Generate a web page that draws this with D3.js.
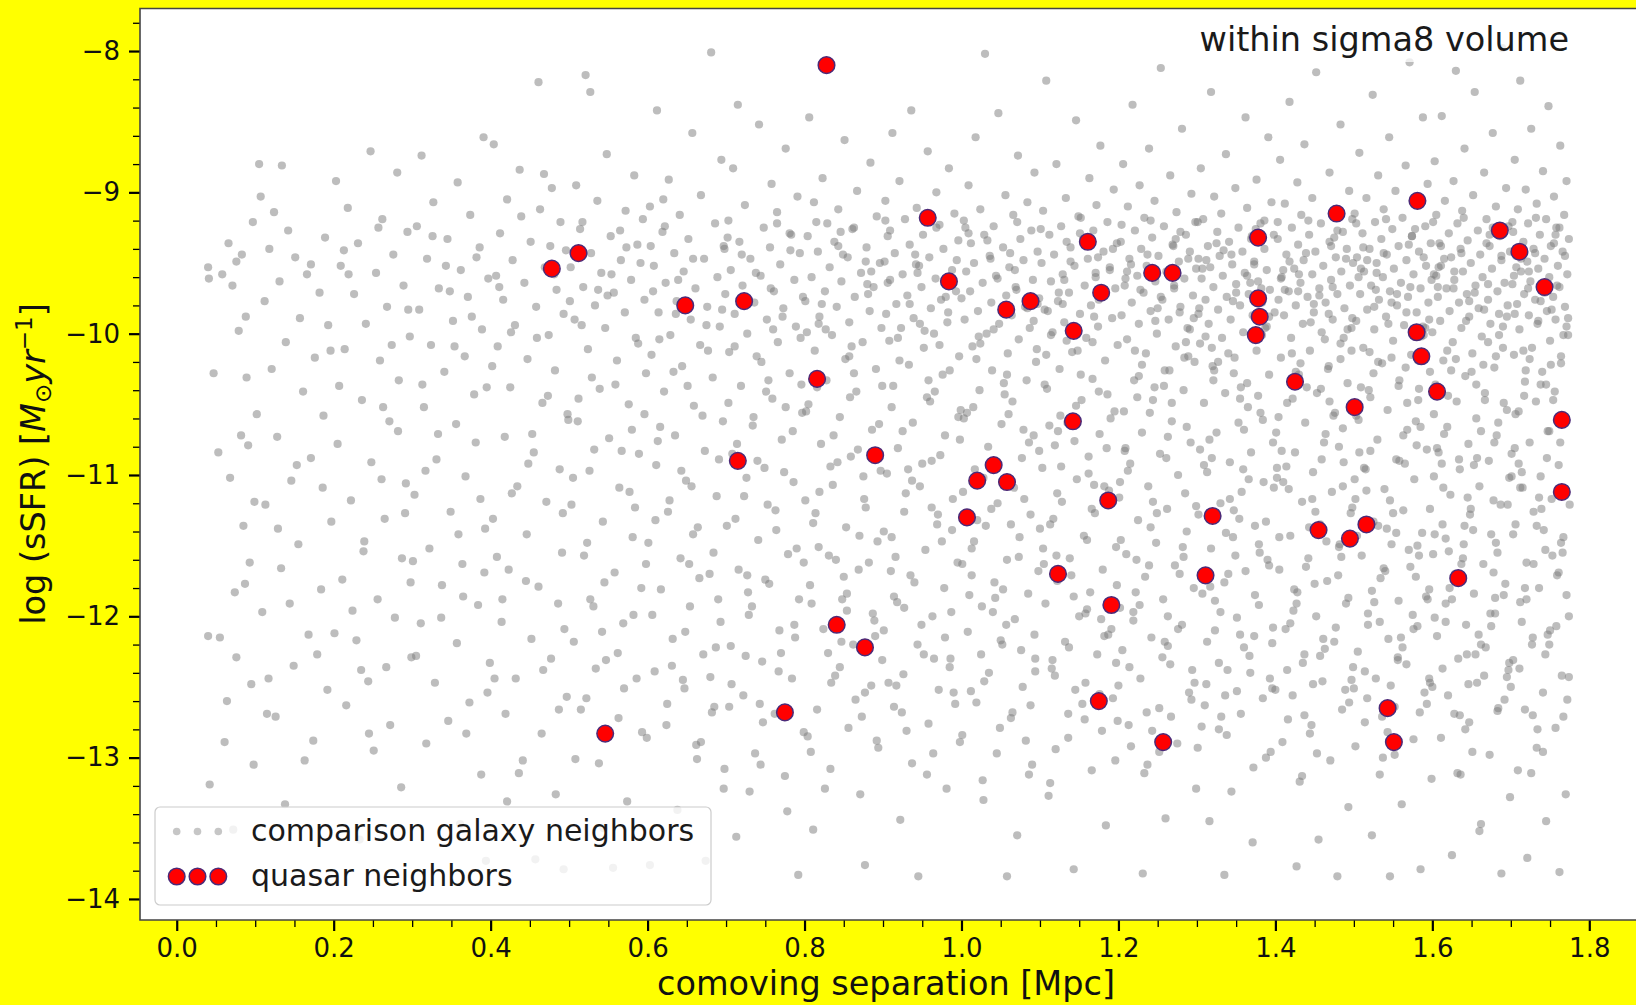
<!DOCTYPE html>
<html>
<head>
<meta charset="utf-8">
<script src="https://cdn.jsdelivr.net/npm/d3@7"></script>
<style>
  body { margin: 0; background: #ffff00; }
  svg { display: block; font-family: "DejaVu Sans", sans-serif; }
</style>
</head>
<body>
<div id="chart"></div>
<script>
// quasar neighbors: separation [Mpc] and log sSFR
var quasarSep = [0.828,0.478,0.512,0.648,0.723,0.816,0.715,0.890,0.957,0.984,1.057,1.088,1.161,1.178,1.143,1.142,1.041,1.020,1.058,1.007,1.187,1.123,1.191,1.175,1.257,1.243,1.269,1.320,1.311,1.378,1.378,1.380,1.375,1.425,1.478,1.455,1.495,1.501,1.516,1.543,1.551,1.580,1.581,1.586,1.606,1.633,1.686,1.711,1.743,1.765,1.765,0.841,0.877,0.775,0.546];
var quasarSsfr = [-8.10,-9.54,-9.43,-9.80,-9.77,-10.32,-10.90,-10.86,-9.18,-9.63,-9.83,-9.77,-9.35,-9.71,-9.98,-10.62,-10.93,-11.04,-11.05,-11.30,-11.18,-11.70,-11.92,-12.60,-12.89,-9.57,-9.57,-11.29,-11.71,-9.32,-9.75,-9.88,-10.01,-10.34,-9.15,-11.39,-11.45,-10.52,-11.35,-12.65,-12.89,-9.99,-9.06,-10.16,-10.41,-11.73,-9.27,-9.42,-9.67,-10.61,-11.12,-12.06,-12.22,-12.68,-12.83];

// comparison galaxy neighbors, pairs of (separation in kpc, log sSFR x 100), one 100 kpc strip per line
var comparison = [
40,-953,41,-961,47,-1028,58,-958,71,-966,76,-949,83,-944,88,-988,82,-1072,91,-1079,85,-1136,74,-1183,40,-1214,55,-1215,76,-1229,42,-1319,64,-1260,93,-1162,97,-921,68,-1102,95,-1248,89,-1031,79,-998,61,-1289,98,-1305,53,-1084,87,-1177,66,-936,99,-1119,72,-1351,
105,-880,134,-881,107,-903,124,-914,142,-927,118,-940,151,-946,166,-958,131,-963,182,-971,112,-977,157,-989,193,-994,139,-1006,176,-1017,121,-1025,161,-1041,187,-1058,128,-1073,171,-1088,146,-1104,113,-1121,197,-1133,155,-1149,133,-1166,184,-1181,109,-1197,168,-1213,149,-1235,192,-1252,126,-1271,174,-1288,138,-1333,163,-1302,117,-1244,189,-932,153,-1093,179,-1227,102,-1057,144,-1191,196,-1012,129,-1138,171,-951,115,-1269,186,-1109,
203,-892,247,-871,281,-886,218,-911,262,-919,294,-928,231,-936,276,-944,209,-952,254,-957,289,-966,226,-972,268,-981,241,-993,297,-1002,214,-1011,259,-1019,283,-1033,236,-1047,271,-1062,205,-1078,248,-1091,292,-1106,222,-1118,265,-1131,239,-1147,287,-1159,211,-1174,256,-1188,278,-1201,229,-1217,299,-1229,244,-1246,216,-1263,272,-1277,251,-1295,286,-1321,233,-1358,261,-1103,207,-1037,295,-983,224,-1196,267,-1236,213,-941,282,-1069,238,-1154,257,-925,201,-1212,274,-1008,245,-1283,291,-1127,219,-958,263,-1052,235,-1238,298,-1176,
312,-874,358,-893,391,-861,327,-907,374,-916,306,-924,345,-933,386,-939,319,-947,362,-955,397,-961,334,-968,371,-974,309,-983,352,-991,389,-997,324,-1008,367,-1016,341,-1027,395,-1038,315,-1052,356,-1064,381,-1077,331,-1089,368,-1101,303,-1114,349,-1126,393,-1138,322,-1152,364,-1163,338,-1178,384,-1192,311,-1205,357,-1219,399,-1233,329,-1247,373,-1261,346,-1274,318,-1290,388,-1312,361,-1347,376,-988,333,-1071,392,-1169,305,-1228,343,-952,379,-1043,317,-1097,365,-1186,396,-1254,326,-931,354,-1009,387,-1117,301,-1161,369,-1283,337,-1201,382,-946,313,-1036,359,-1142,394,-1373,348,-970,
404,-866,437,-884,478,-897,421,-905,463,-912,489,-921,412,-929,451,-935,496,-941,428,-948,469,-953,407,-959,443,-964,484,-969,416,-976,458,-981,493,-986,431,-994,474,-1001,409,-1009,447,-1018,482,-1026,425,-1038,466,-1049,499,-1061,418,-1073,455,-1084,488,-1096,434,-1108,471,-1119,403,-1131,446,-1142,491,-1155,423,-1167,461,-1179,486,-1191,414,-1204,452,-1216,477,-1230,432,-1244,497,-1257,419,-1269,465,-1283,441,-1302,483,-1326,457,-1372,426,-999,473,-1044,408,-1158,494,-1209,461,-822,439,-917,481,-958,402,-1023,448,-1092,492,-1127,415,-1188,467,-1238,436,-1311,476,-938,411,-967,459,-1003,498,-1057,427,-1113,445,-1175,487,-1266,421,-1331,468,-887,453,-1071,405,-1244,
521,-817,527,-829,548,-873,583,-888,509,-895,536,-906,572,-913,594,-919,514,-926,553,-931,587,-937,528,-943,566,-948,502,-953,541,-957,579,-962,518,-967,557,-971,596,-976,533,-980,571,-985,507,-990,546,-996,585,-1003,524,-1011,561,-1019,598,-1028,539,-1039,576,-1050,511,-1062,551,-1074,589,-1085,526,-1097,564,-1109,503,-1121,543,-1133,581,-1144,519,-1157,558,-1169,592,-1180,531,-1193,569,-1205,506,-1218,547,-1231,586,-1244,522,-1258,563,-1272,599,-1286,538,-1304,574,-1331,556,-1378,512,-1046,577,-1112,534,-1237,591,-950,493,-1379,517,-921,554,-958,588,-1007,529,-1031,567,-1083,505,-1102,545,-1176,582,-1199,515,-1266,573,-939,537,-969,596,-1057,523,-1148,562,-1226,508,-1301,549,-973,584,-1123,532,-1082,570,-1251,598,-1163,516,-994,559,-1036,542,-1211,593,-1282,527,-1188,565,-927,501,-977,580,-1068,544,-1350,
681,-801,612,-842,657,-858,694,-877,627,-891,668,-902,603,-910,641,-916,686,-922,619,-928,652,-933,697,-938,634,-943,672,-947,608,-952,646,-956,689,-960,623,-964,661,-968,699,-972,637,-977,676,-981,614,-985,655,-990,692,-995,629,-1001,667,-1008,605,-1015,644,-1023,683,-1031,621,-1041,659,-1051,696,-1062,635,-1072,673,-1083,611,-1093,649,-1104,688,-1115,626,-1126,664,-1137,601,-1148,642,-1159,679,-1170,617,-1181,654,-1193,693,-1204,632,-1216,671,-1227,609,-1239,647,-1251,685,-1264,624,-1277,662,-1291,698,-1308,638,-1337,603,-1376,674,-1373,616,-1066,658,-1142,687,-1222,604,-938,639,-962,675,-994,615,-1004,651,-1037,691,-1089,628,-1118,666,-1173,606,-1199,645,-1245,682,-1268,622,-924,658,-947,695,-983,633,-1027,670,-1058,610,-1132,648,-1211,684,-1155,625,-1262,663,-1301,698,-940,636,-986,677,-1012,613,-1076,653,-1163,690,-1188,631,-1235,668,-1289,607,-970,643,-1097,680,-1243,620,-905,656,-1108,697,-1322,
715,-838,742,-852,776,-869,709,-883,758,-894,791,-903,724,-909,765,-914,703,-920,748,-925,783,-930,717,-935,756,-939,794,-943,731,-947,769,-951,706,-955,744,-959,787,-962,721,-966,761,-970,798,-974,736,-978,773,-982,711,-986,752,-990,789,-995,727,-1000,766,-1006,704,-1013,745,-1020,781,-1028,719,-1037,759,-1046,797,-1056,734,-1065,771,-1075,708,-1085,749,-1095,786,-1105,723,-1115,763,-1125,701,-1136,741,-1146,779,-1156,716,-1167,755,-1177,793,-1188,729,-1199,768,-1210,706,-1221,746,-1232,784,-1244,722,-1256,762,-1269,799,-1282,737,-1297,775,-1313,730,-1324,713,-1356,792,-1383,754,-1033,727,-1171,788,-1215,740,-1090,702,-932,738,-957,772,-988,711,-1009,751,-1041,785,-1069,726,-1102,764,-1139,799,-1162,733,-1193,770,-1226,707,-1248,747,-1275,781,-929,720,-944,757,-968,795,-1003,739,-1016,776,-1052,714,-1078,753,-1121,790,-1152,728,-1183,767,-1239,704,-1264,744,-1305,782,-941,719,-976,760,-997,796,-1036,735,-1059,774,-1098,712,-1131,750,-1174,787,-1206,725,-1228,765,-922,703,-1049,743,-1262,778,-1338,
806,-847,851,-863,884,-879,823,-890,867,-899,812,-907,843,-912,892,-917,829,-922,861,-926,804,-931,838,-935,879,-939,817,-942,855,-946,896,-950,832,-953,872,-957,809,-960,847,-963,888,-967,826,-970,864,-974,801,-977,841,-981,883,-984,819,-988,857,-992,898,-996,835,-1001,874,-1006,813,-1012,852,-1018,891,-1025,828,-1033,866,-1041,805,-1050,845,-1059,886,-1068,821,-1078,859,-1087,897,-1097,836,-1107,876,-1117,814,-1127,853,-1137,893,-1147,831,-1157,869,-1167,807,-1178,848,-1188,887,-1198,824,-1209,862,-1220,899,-1231,839,-1242,877,-1254,816,-1266,856,-1279,894,-1293,833,-1308,871,-1326,811,-1351,877,-1376,858,-1045,819,-1112,882,-1162,845,-1236,803,-999,868,-1082,815,-921,849,-944,881,-972,827,-997,863,-1028,802,-1055,842,-1091,878,-1123,818,-1151,854,-1184,890,-1214,834,-1247,873,-1271,808,-1296,846,-928,885,-956,822,-979,860,-1009,899,-1037,837,-1072,875,-1101,811,-1134,850,-1172,889,-1203,830,-1226,865,-1259,804,-1285,843,-938,880,-965,818,-993,857,-1016,895,-1064,833,-1094,870,-1143,809,-1191,847,-1218,885,-1249,826,-1322,863,-925,801,-1118,840,-1160,878,-949,816,-1038,854,-1196,892,-1288,
936,-842,912,-858,957,-871,984,-883,921,-892,968,-900,903,-906,943,-911,991,-915,928,-919,972,-923,909,-927,951,-930,996,-934,934,-937,977,-940,915,-943,959,-946,902,-949,946,-952,988,-955,925,-958,967,-961,906,-964,949,-967,993,-970,931,-973,974,-976,917,-979,961,-982,904,-986,939,-989,982,-992,923,-996,965,-1000,908,-1005,952,-1010,997,-1016,933,-1022,976,-1029,913,-1037,956,-1045,999,-1054,938,-1063,979,-1072,919,-1081,962,-1090,905,-1099,947,-1108,989,-1117,927,-1126,969,-1135,911,-1144,954,-1153,995,-1162,935,-1171,978,-1180,918,-1190,963,-1200,901,-1210,944,-1220,986,-1230,926,-1241,971,-1252,914,-1264,958,-1276,998,-1289,937,-1304,981,-1322,922,-1344,945,-1384,966,-1041,929,-1113,987,-1197,907,-1247,953,-998,973,-1086,916,-1158,992,-1262,941,-944,903,-920,942,-951,980,-974,919,-1003,958,-1033,996,-1059,932,-1096,970,-1128,910,-1168,949,-1206,985,-1236,924,-1268,964,-1297,906,-931,944,-957,983,-985,921,-1019,960,-1048,998,-1075,937,-1104,975,-1147,914,-1186,952,-1227,990,-1254,930,-1281,968,-925,909,-962,947,-993,985,-1026,925,-1069,962,-1123,901,-1140,940,-1176,979,-1215,917,-1249,956,-1312,994,-948,934,-979,972,-1008,911,-1052,950,-1092,988,-1139,927,-1194,965,-1230,
1030,-802,1047,-844,1018,-861,1072,-874,1093,-886,1009,-895,1056,-902,1084,-907,1024,-912,1066,-916,1003,-920,1041,-924,1089,-927,1029,-930,1075,-933,1012,-936,1053,-939,1097,-942,1036,-945,1079,-948,1016,-950,1061,-953,1006,-956,1044,-959,1091,-962,1027,-964,1069,-967,1011,-970,1057,-973,1099,-975,1038,-978,1081,-981,1021,-984,1064,-987,1004,-990,1048,-993,1087,-996,1032,-1000,1073,-1004,1014,-1009,1059,-1014,1095,-1020,1039,-1026,1083,-1033,1023,-1040,1065,-1048,1007,-1056,1051,-1064,1092,-1072,1034,-1080,1077,-1088,1017,-1096,1062,-1104,1002,-1112,1046,-1120,1088,-1128,1031,-1136,1074,-1144,1013,-1152,1058,-1160,1098,-1168,1042,-1176,1085,-1184,1026,-1193,1068,-1202,1008,-1211,1052,-1220,1094,-1230,1035,-1240,1078,-1250,1019,-1261,1063,-1272,1001,-1284,1045,-1297,1086,-1312,1028,-1330,1071,-1355,1058,-1384,1015,-1052,1067,-1109,1043,-1187,1096,-1011,1025,-1227,1082,-1288,1054,-1035,1005,-925,1037,-947,1070,-969,1092,-991,1019,-1018,1055,-1043,1086,-1077,1028,-1102,1063,-1135,1001,-1163,1040,-1197,1076,-1224,1012,-1253,1049,-1279,1090,-1305,1033,-934,1068,-955,1097,-979,1022,-1002,1058,-1029,1003,-1060,1044,-1091,1080,-1117,1016,-1147,1053,-1181,1093,-1213,1029,-1246,1065,-1268,1009,-929,1046,-961,1084,-982,1024,-1007,1060,-1057,1099,-1083,1038,-1124,1073,-1158,1010,-1185,1050,-1217,1088,-1263,1027,-1316,1062,-943,1000,-975,1041,-997,1079,-1068,1020,-1132,1057,-1206,1094,-1239,1035,-1094,1071,-921,1013,-1171,
1108,-821,1146,-849,1177,-867,1121,-880,1163,-890,1194,-898,1133,-904,1172,-909,1104,-913,1149,-917,1186,-921,1127,-924,1168,-927,1112,-930,1155,-933,1198,-936,1139,-939,1181,-942,1118,-944,1161,-947,1102,-950,1144,-952,1189,-955,1129,-958,1171,-960,1114,-963,1157,-966,1196,-968,1137,-971,1178,-974,1123,-977,1165,-980,1106,-983,1151,-986,1192,-989,1131,-992,1174,-995,1116,-999,1159,-1003,1199,-1008,1141,-1013,1183,-1019,1125,-1025,1167,-1032,1109,-1039,1153,-1047,1195,-1055,1135,-1063,1176,-1071,1119,-1079,1162,-1087,1103,-1095,1147,-1103,1188,-1111,1128,-1119,1170,-1127,1113,-1135,1156,-1143,1197,-1151,1138,-1159,1180,-1167,1122,-1175,1164,-1183,1107,-1191,1150,-1200,1191,-1209,1132,-1218,1173,-1227,1115,-1237,1158,-1247,1193,-1258,1136,-1269,1179,-1281,1120,-1294,1166,-1309,1111,-1327,1184,-1348,1143,-1379,1126,-1058,1169,-1107,1105,-1163,1187,-1213,1145,-1252,1134,-1005,1175,-1041,1117,-1131,1160,-1195,1199,-1274,1152,-918,1124,-971,1101,-926,1139,-949,1175,-976,1114,-1001,1152,-1029,1190,-1060,1127,-1094,1166,-1124,1104,-1152,1143,-1186,1182,-1214,1119,-1242,1157,-1273,1196,-1302,1134,-935,1171,-957,1110,-984,1148,-1012,1186,-1043,1123,-1069,1162,-1099,1100,-1138,1140,-1171,1178,-1202,1116,-1231,1154,-1262,1193,-940,1131,-962,1169,-988,1108,-1015,1146,-1051,1185,-1081,1122,-1113,1160,-1146,1198,-1178,1137,-1222,1176,-1255,1113,-1318,1151,-929,1189,-953,1129,-979,1167,-1006,1106,-1036,1144,-1076,1182,-1108,1121,-1157,1158,-1198,1197,-1233,1136,-1286,1174,-946,1112,-1065,
1254,-812,1218,-838,1281,-855,1239,-869,1206,-880,1266,-888,1227,-895,1293,-901,1246,-906,1212,-910,1274,-914,1233,-918,1298,-921,1258,-924,1221,-927,1286,-930,1243,-932,1203,-935,1269,-937,1229,-940,1291,-942,1251,-945,1214,-947,1277,-949,1236,-952,1299,-954,1261,-956,1224,-959,1284,-961,1247,-963,1208,-966,1271,-968,1232,-971,1295,-973,1256,-976,1217,-978,1279,-981,1241,-984,1204,-987,1264,-990,1226,-993,1288,-996,1249,-1000,1211,-1004,1273,-1009,1235,-1014,1297,-1020,1259,-1026,1220,-1033,1283,-1040,1244,-1047,1207,-1055,1268,-1062,1230,-1070,1292,-1077,1253,-1085,1215,-1092,1276,-1100,1238,-1108,1201,-1116,1262,-1124,1225,-1132,1287,-1140,1248,-1148,1210,-1156,1272,-1164,1234,-1172,1296,-1180,1257,-1188,1219,-1197,1281,-1206,1242,-1215,1205,-1224,1266,-1234,1228,-1244,1290,-1254,1252,-1265,1213,-1277,1275,-1290,1237,-1305,1299,-1322,1260,-1343,1231,-1382,1246,-1038,1209,-1081,1285,-1113,1223,-1160,1263,-1200,1294,-1238,1216,-1292,1278,-985,1240,-1056,1202,-1194,1267,-1271,1289,-1016,1204,-923,1237,-944,1271,-966,1296,-989,1221,-1012,1258,-1037,1287,-1066,1212,-1097,1249,-1127,1283,-1158,1227,-1192,1263,-1221,1200,-1249,1243,-1281,1279,-928,1216,-951,1254,-974,1291,-997,1230,-1022,1268,-1049,1208,-1083,1244,-1119,1282,-1151,1222,-1183,1259,-1218,1297,-1247,1236,-1268,1273,-933,1211,-956,1250,-982,1286,-1006,1226,-1030,1263,-1073,1202,-1105,1241,-1137,1278,-1170,1219,-1203,1256,-1229,1293,-1259,1233,-1311,1270,-938,1209,-961,1247,-991,1284,-1017,1224,-1045,1261,-1088,1299,-1122,1239,-1164,1276,-1209,1214,-1236,1252,-1296,1289,-947,1228,-969,1265,-1026,1203,-1146,1241,-920,
1318,-829,1362,-847,1391,-861,1337,-873,1305,-883,1376,-891,1349,-897,1322,-903,1395,-907,1364,-911,1331,-915,1308,-919,1381,-922,1353,-925,1326,-928,1398,-930,1369,-933,1341,-935,1314,-938,1386,-940,1358,-942,1329,-945,1302,-947,1373,-949,1345,-951,1317,-953,1389,-955,1361,-957,1333,-959,1306,-961,1378,-963,1350,-965,1321,-967,1393,-969,1366,-972,1338,-974,1311,-976,1383,-978,1355,-980,1327,-983,1399,-985,1371,-987,1343,-990,1315,-993,1387,-996,1359,-999,1332,-1003,1304,-1007,1376,-1012,1348,-1017,1320,-1023,1392,-1029,1364,-1035,1336,-1042,1309,-1049,1381,-1056,1353,-1063,1325,-1070,1397,-1077,1369,-1084,1342,-1091,1313,-1098,1385,-1105,1357,-1112,1330,-1120,1302,-1128,1374,-1136,1346,-1144,1318,-1152,1390,-1160,1362,-1168,1335,-1176,1307,-1184,1379,-1192,1351,-1201,1323,-1210,1396,-1219,1367,-1228,1339,-1238,1312,-1248,1384,-1258,1356,-1269,1328,-1280,1301,-1293,1372,-1307,1344,-1324,1316,-1345,1371,-1360,1335,-1383,1355,-1046,1319,-1088,1388,-1133,1340,-1170,1373,-1214,1310,-1263,1394,-1296,1347,-1028,1303,-982,1366,-1103,1328,-1233,1301,-921,1334,-941,1368,-964,1392,-988,1319,-1010,1356,-1038,1384,-1061,1309,-1093,1347,-1125,1380,-1155,1323,-1189,1360,-1222,1396,-1251,1338,-1284,1375,-926,1312,-948,1350,-971,1389,-995,1327,-1020,1365,-1052,1304,-1082,1342,-1117,1379,-1149,1317,-1179,1355,-1213,1393,-1244,1331,-1271,1370,-931,1307,-954,1346,-977,1383,-1001,1322,-1026,1360,-1068,1398,-1109,1337,-1141,1374,-1185,1313,-1218,1351,-1253,1388,-1300,1325,-936,1364,-959,1302,-986,1340,-1014,1378,-1044,1316,-1075,1354,-1131,1392,-1164,1330,-1197,1368,-1240,1306,-1278,1344,-944,1382,-968,1321,-1033,1359,-1096,1397,-1208,1336,-1256,1373,-951,1311,-1002,1349,-1157,1386,-920,
1452,-815,1418,-836,1483,-852,1437,-866,1406,-877,1469,-886,1428,-893,1494,-899,1447,-904,1412,-908,1476,-912,1433,-916,1498,-919,1458,-922,1421,-925,1486,-928,1443,-930,1403,-933,1469,-935,1429,-937,1491,-940,1451,-942,1414,-944,1477,-946,1436,-948,1499,-950,1461,-952,1424,-954,1484,-956,1447,-958,1408,-960,1471,-962,1432,-964,1495,-966,1456,-968,1417,-970,1479,-972,1441,-974,1404,-976,1464,-978,1426,-980,1488,-982,1449,-985,1411,-987,1473,-990,1435,-993,1497,-996,1459,-999,1420,-1003,1483,-1007,1444,-1012,1407,-1017,1468,-1023,1430,-1029,1492,-1035,1453,-1042,1415,-1049,1476,-1056,1438,-1063,1401,-1070,1462,-1077,1425,-1084,1487,-1091,1448,-1098,1410,-1105,1472,-1112,1434,-1119,1496,-1127,1457,-1135,1419,-1143,1481,-1151,1442,-1159,1405,-1167,1466,-1175,1428,-1183,1490,-1191,1452,-1200,1413,-1209,1475,-1218,1437,-1227,1499,-1236,1460,-1246,1422,-1256,1485,-1266,1446,-1277,1409,-1289,1470,-1302,1431,-1317,1493,-1335,1455,-1358,1427,-1377,1479,-1384,1440,-1038,1402,-1095,1465,-1147,1423,-1196,1489,-1252,1416,-1273,1474,-1058,1450,-1177,1435,-1233,1497,-1012,1412,-969,1463,-1004,1486,-1108,1403,-921,1439,-943,1473,-967,1498,-989,1421,-1014,1458,-1039,1486,-1067,1414,-1094,1451,-1126,1484,-1158,1427,-1191,1463,-1223,1400,-1252,1444,-1283,1479,-927,1418,-949,1456,-973,1492,-997,1432,-1021,1469,-1048,1408,-1083,1447,-1117,1482,-1149,1424,-1181,1461,-1216,1497,-1245,1437,-1270,1475,-932,1410,-955,1449,-979,1487,-1003,1426,-1027,1464,-1071,1402,-1102,1443,-1137,1480,-1171,1419,-1205,1457,-1228,1494,-1261,1434,-1313,1471,-938,1407,-961,1445,-992,1483,-1018,1422,-1046,1459,-1089,1498,-1123,1439,-1165,1477,-1208,1415,-1238,1453,-1297,1490,-947,1429,-970,1467,-1025,1405,-1144,1442,-920,1481,-1080,1417,-1110,1455,-1140,1493,-1187,1430,-958,1468,-986,1404,-1059,1448,-1248,
1571,-808,1524,-831,1588,-847,1545,-861,1507,-872,1566,-881,1531,-888,1594,-894,1553,-899,1516,-904,1579,-908,1538,-912,1501,-915,1562,-918,1527,-921,1591,-924,1549,-926,1511,-929,1574,-931,1535,-933,1598,-936,1557,-938,1520,-940,1583,-942,1542,-944,1504,-946,1567,-948,1529,-950,1592,-952,1551,-954,1513,-956,1576,-958,1537,-960,1599,-962,1560,-964,1522,-966,1585,-968,1546,-970,1508,-972,1569,-974,1532,-976,1595,-978,1555,-980,1517,-983,1580,-985,1541,-988,1503,-991,1564,-994,1526,-997,1589,-1001,1550,-1005,1512,-1010,1573,-1015,1536,-1021,1597,-1027,1558,-1033,1519,-1040,1582,-1047,1543,-1054,1506,-1061,1568,-1068,1530,-1075,1593,-1082,1554,-1089,1515,-1096,1577,-1103,1539,-1110,1502,-1117,1563,-1125,1525,-1133,1587,-1141,1548,-1149,1510,-1157,1572,-1165,1534,-1173,1596,-1181,1557,-1189,1518,-1198,1581,-1207,1544,-1216,1505,-1225,1567,-1234,1528,-1244,1590,-1254,1552,-1264,1514,-1275,1576,-1287,1537,-1300,1599,-1315,1561,-1333,1523,-1355,1585,-1379,1546,-1384,1509,-1038,1565,-1092,1531,-1136,1594,-1188,1556,-1231,1517,-1258,1579,-1062,1540,-1168,1502,-1292,1588,-995,1548,-1017,1521,-1083,1570,-1153,1533,-1204,1597,-1247,1526,-981,1583,-1039,1503,-922,1538,-943,1572,-967,1596,-990,1520,-1013,1557,-1037,1585,-1066,1513,-1095,1550,-1127,1583,-1157,1526,-1190,1562,-1222,1500,-1251,1543,-1282,1578,-926,1517,-948,1555,-972,1591,-996,1531,-1020,1568,-1049,1507,-1084,1546,-1118,1581,-1150,1523,-1182,1560,-1215,1596,-1244,1536,-1271,1574,-931,1509,-954,1548,-978,1586,-1002,1525,-1028,1563,-1072,1501,-1103,1542,-1138,1579,-1172,1518,-1206,1556,-1229,1593,-1262,1533,-1312,1570,-937,1506,-960,1544,-993,1582,-1019,1521,-1045,1558,-1090,1597,-1124,1538,-1166,1576,-1209,1514,-1239,1552,-1298,1589,-946,1528,-969,1566,-1024,1504,-1143,1541,-919,1580,-1079,1516,-1111,1554,-1141,1592,-1186,1529,-957,1567,-985,1503,-1058,1547,-1249,1584,-1268,1512,-939,1575,-1199,
1630,-814,1654,-829,1689,-798,1612,-846,1677,-858,1641,-869,1603,-878,1666,-886,1627,-892,1694,-897,1652,-902,1616,-906,1681,-910,1638,-913,1605,-916,1669,-919,1632,-922,1697,-924,1658,-927,1621,-929,1686,-931,1645,-934,1609,-936,1673,-938,1636,-940,1699,-942,1661,-944,1624,-946,1688,-948,1649,-950,1611,-952,1676,-954,1639,-956,1602,-958,1664,-960,1628,-962,1692,-964,1655,-966,1618,-968,1683,-970,1644,-972,1607,-974,1671,-976,1634,-978,1696,-980,1659,-982,1622,-984,1685,-986,1647,-988,1610,-991,1674,-993,1637,-996,1600,-999,1663,-1002,1626,-1006,1690,-1010,1651,-1014,1614,-1019,1679,-1024,1642,-1030,1604,-1036,1667,-1042,1631,-1048,1695,-1054,1656,-1060,1619,-1066,1682,-1072,1646,-1078,1608,-1084,1672,-1090,1635,-1096,1698,-1102,1660,-1108,1623,-1114,1687,-1121,1648,-1128,1613,-1135,1675,-1142,1640,-1149,1601,-1156,1665,-1163,1629,-1170,1693,-1177,1653,-1184,1617,-1191,1680,-1198,1643,-1206,1606,-1214,1668,-1222,1633,-1230,1697,-1238,1657,-1247,1620,-1256,1684,-1265,1647,-1275,1611,-1286,1673,-1298,1636,-1312,1699,-1328,1662,-1347,1625,-1369,1688,-1382,1650,-1027,1615,-1071,1678,-1118,1639,-1159,1603,-1201,1666,-1242,1628,-1269,1691,-1049,1653,-1093,1617,-1145,1680,-1187,1644,-1227,1607,-967,1671,-1006,1601,-921,1637,-943,1671,-965,1695,-988,1619,-1012,1656,-1036,1684,-1063,1612,-1092,1649,-1124,1683,-1155,1625,-1188,1662,-1220,1600,-1250,1642,-1280,1677,-925,1615,-947,1654,-971,1690,-995,1630,-1018,1667,-1047,1606,-1081,1645,-1116,1681,-1148,1622,-1180,1659,-1213,1695,-1243,1635,-1270,1673,-930,1608,-953,1647,-977,1685,-1001,1624,-1026,1662,-1069,1602,-1101,1641,-1136,1678,-1169,1617,-1204,1655,-1227,1692,-1259,1632,-1311,1669,-936,1605,-959,1643,-991,1681,-1016,1620,-1044,1657,-1088,1696,-1121,1637,-1163,1675,-1207,1613,-1237,1651,-1296,1688,-945,1627,-968,1665,-1022,1603,-1142,1640,-918,1679,-1077,1614,-1109,1652,-1139,1691,-1185,1628,-956,1666,-983,1602,-1057,1646,-1248,1683,-1267,1611,-938,1674,-1198,1634,-1089,1698,-1233,1621,-1154,1660,-1352,
1712,-821,1748,-839,1726,-855,1763,-867,1705,-877,1741,-885,1771,-892,1719,-898,1755,-903,1733,-908,1709,-912,1768,-916,1745,-919,1722,-922,1758,-925,1703,-928,1737,-930,1774,-933,1716,-935,1751,-938,1729,-940,1766,-942,1707,-945,1743,-947,1721,-949,1760,-952,1735,-954,1713,-956,1772,-958,1749,-960,1725,-963,1702,-965,1762,-967,1739,-969,1717,-972,1754,-974,1731,-976,1708,-979,1769,-981,1746,-984,1723,-987,1757,-990,1734,-993,1711,-997,1773,-1001,1750,-1005,1727,-1010,1704,-1015,1764,-1021,1740,-1027,1718,-1034,1756,-1041,1732,-1048,1710,-1055,1770,-1062,1747,-1069,1724,-1077,1701,-1085,1761,-1093,1738,-1101,1715,-1109,1752,-1117,1729,-1126,1706,-1135,1767,-1144,1744,-1153,1720,-1162,1759,-1171,1736,-1180,1712,-1190,1774,-1200,1750,-1210,1727,-1220,1703,-1231,1765,-1242,1741,-1254,1718,-1266,1757,-1279,1733,-1293,1709,-1309,1770,-1326,1745,-1345,1721,-1371,1762,-1381,1738,-1036,1714,-1098,1753,-1157,1728,-1215,1767,-1271,1705,-986,1702,-921,1731,-943,1759,-966,1773,-989,1716,-1012,1745,-1036,1768,-1063,1710,-1092,1739,-1124,1766,-1155,1720,-1188,1749,-1220,1700,-1250,1734,-1280,1762,-925,1713,-947,1743,-971,1771,-995,1724,-1018,1754,-1047,1705,-1081,1736,-1116,1764,-1148,1718,-1180,1747,-1213,1774,-1243,1728,-1270,1757,-930,1707,-953,1738,-977,1767,-1001,1719,-1026,1749,-1069,1701,-1101,1733,-1136,1761,-1169,1714,-1204,1744,-1227,1772,-1259,1726,-1311,1755,-936,1704,-959,1735,-991,1764,-1016,1717,-1044,1746,-1088,1775,-1121,1729,-1163,1758,-1207,1711,-1237,1741,-1296,1769,-945,1722,-968,1751,-1022,1703,-1142,1732,-918,1763,-1077,1712,-1109,1742,-1139,1771,-1185,1723,-956,1752,-983,1706,-1057
];

var xTicks = [0.0, 0.2, 0.4, 0.6, 0.8, 1.0, 1.2, 1.4, 1.6, 1.8];
var yTicks = [-14, -13, -12, -11, -10, -9, -8];
var legendLabels = ['comparison galaxy neighbors', 'quasar neighbors'];

// kpc -> Mpc, hundredths -> dex
var compPoints = d3.range(0, comparison.length, 2).map(i => [comparison[i] / 1000, comparison[i + 1] / 100]);

var width = 1636, height = 1005;
// plot box; the right edge runs just past the picture like in the original
var plot = {left: 140, top: 8.5, right: 1637, bottom: 920};

var svg = d3.select('#chart').append('svg')
    .attr('width', width)
    .attr('height', height);

var x = d3.scaleLinear().domain([-0.0468, 1.8608]).range([plot.left, plot.right]);
var y = d3.scaleLinear().domain([-14.149, -7.699]).range([plot.bottom, plot.top]);

svg.append('rect')
    .attr('x', plot.left).attr('y', plot.top)
    .attr('width', plot.right - plot.left).attr('height', plot.bottom - plot.top)
    .attr('fill', '#fff');

svg.append('clipPath').attr('id', 'clip')
  .append('rect')
    .attr('x', plot.left).attr('y', plot.top)
    .attr('width', plot.right - plot.left).attr('height', plot.bottom - plot.top);

var pts = svg.append('g').attr('clip-path', 'url(#clip)');

pts.selectAll('.comp')
    .data(compPoints)
    .join('circle')
    .attr('class', 'comp')
    .attr('cx', d => x(d[0]))
    .attr('cy', d => y(d[1]))
    .attr('r', 4.1)
    .attr('fill', '#7c7c7c')
    .attr('fill-opacity', 0.5);

pts.selectAll('.qso')
    .data(d3.zip(quasarSep, quasarSsfr))
    .join('circle')
    .attr('class', 'qso')
    .attr('cx', d => x(d[0]))
    .attr('cy', d => y(d[1]))
    .attr('r', 8.3)
    .attr('fill', '#ff0000')
    .attr('stroke', '#4b2a78')
    .attr('stroke-width', 1.5);

// title box in the upper right, half see-through like the legend
svg.append('rect')
    .attr('x', 1192).attr('y', 22).attr('width', 382).attr('height', 40)
    .attr('fill', '#fff').attr('fill-opacity', 0.75);
svg.append('text')
    .attr('x', 1569).attr('y', 51)
    .attr('text-anchor', 'end')
    .attr('font-size', 33.5)
    .attr('fill', '#1a1a1a')
    .text('within sigma8 volume');

// minor tick positions
var xMinor = d3.range(0, 37).map(i => i * 0.05).filter((v, i) => i % 4 != 0);
var yMinor = d3.range(0, 32).map(i => -14 + i * 0.2).filter((v, i) => i % 5 != 0);

function styleAxis(g, w) {
  g.select('.domain').remove();
  g.selectAll('line').attr('stroke', '#000').attr('stroke-width', w);
  g.attr('font-size', 26).attr('font-family', '"DejaVu Sans", sans-serif');
  g.selectAll('text').attr('fill', '#111');
}

svg.append('g')
    .attr('transform', `translate(0,${plot.bottom})`)
    .call(d3.axisBottom(x).tickValues(xMinor).tickFormat('').tickSize(7))
    .call(g => styleAxis(g, 1.3));
svg.append('g')
    .attr('transform', `translate(0,${plot.bottom})`)
    .call(d3.axisBottom(x).tickValues(xTicks).tickFormat(d3.format('.1f')).tickSize(11).tickPadding(8))
    .call(g => styleAxis(g, 2.2));

svg.append('g')
    .attr('transform', `translate(${plot.left},0)`)
    .call(d3.axisLeft(y).tickValues(yMinor).tickFormat('').tickSize(7))
    .call(g => styleAxis(g, 1.3));
svg.append('g')
    .attr('transform', `translate(${plot.left},0)`)
    .call(d3.axisLeft(y).tickValues(yTicks).tickFormat(d3.format('d')).tickSize(11).tickPadding(9))
    .call(g => styleAxis(g, 2.2));

// spines (left, top, bottom)
svg.append('path')
    .attr('d', `M${plot.right},${plot.top}H${plot.left}V${plot.bottom}H${plot.right}`)
    .attr('fill', 'none')
    .attr('stroke', '#444')
    .attr('stroke-width', 1.6);

// axis labels
svg.append('text')
    .attr('x', 886).attr('y', 995)
    .attr('text-anchor', 'middle')
    .attr('font-size', 33.5)
    .attr('fill', '#111')
    .text('comoving separation [Mpc]');

var ylab = svg.append('text')
    .attr('transform', 'translate(45,464) rotate(-90)')
    .attr('text-anchor', 'middle')
    .attr('font-size', 33.5)
    .attr('fill', '#111');
ylab.append('tspan').text('log (sSFR) [');
ylab.append('tspan').attr('font-style', 'italic').text('M');
ylab.append('tspan').attr('font-size', 23).attr('dy', 6).text('\u2299');
ylab.append('tspan').attr('font-style', 'italic').attr('dy', -6).text('yr');
ylab.append('tspan').attr('font-size', 23).attr('dy', -13).text('\u22121');
ylab.append('tspan').attr('dy', 13).text(']');

// legend
var legend = svg.append('g');
legend.append('rect')
    .attr('x', 155).attr('y', 807).attr('width', 556).attr('height', 98)
    .attr('rx', 5)
    .attr('fill', '#fff').attr('fill-opacity', 0.8)
    .attr('stroke', '#cccccc').attr('stroke-width', 1.2);

var markX = [176.7, 197.5, 218.3];
legend.selectAll('.lg1').data(markX).join('circle')
    .attr('cx', d => d).attr('cy', 831.5).attr('r', 3.8)
    .attr('fill', '#808080').attr('fill-opacity', 0.45);
legend.selectAll('.lg2').data(markX).join('circle')
    .attr('cx', d => d).attr('cy', 876.5).attr('r', 8.3)
    .attr('fill', '#ff0000').attr('stroke', '#4b2a78').attr('stroke-width', 1.5);

legend.selectAll('text').data(legendLabels).join('text')
    .attr('x', 251)
    .attr('y', (d, i) => 841 + i * 45)
    .attr('font-size', 30)
    .attr('fill', '#1a1a1a')
    .text(d => d);
</script>
</body>
</html>
